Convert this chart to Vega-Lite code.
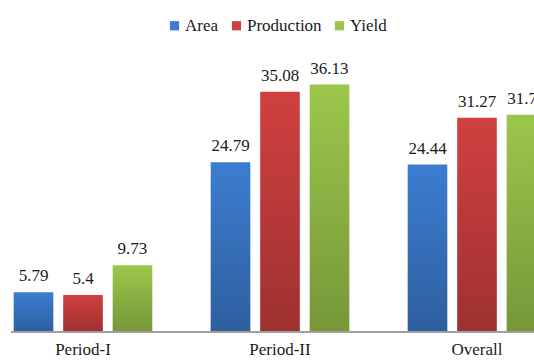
{
  "$schema": "https://vega.github.io/schema/vega-lite/v6.json",
  "width": 523,
  "height": 274,
  "autosize": "none",
  "padding": {"left": 11, "top": 58, "right": 0, "bottom": 28},
  "background": "white",
  "config": {
    "view": {"stroke": null},
    "font": "Liberation Serif"
  },
  "data": {
    "values": [
      {"period": "Period-I", "series": "Area", "value": 5.79, "label": "5.79"},
      {"period": "Period-I", "series": "Production", "value": 5.4, "label": "5.4"},
      {"period": "Period-I", "series": "Yield", "value": 9.73, "label": "9.73"},
      {"period": "Period-II", "series": "Area", "value": 24.79, "label": "24.79"},
      {"period": "Period-II", "series": "Production", "value": 35.08, "label": "35.08"},
      {"period": "Period-II", "series": "Yield", "value": 36.13, "label": "36.13"},
      {"period": "Overall", "series": "Area", "value": 24.44, "label": "24.44"},
      {"period": "Overall", "series": "Production", "value": 31.27, "label": "31.27"},
      {"period": "Overall", "series": "Yield", "value": 31.72, "label": "31.72"}
    ]
  },
  "encoding": {
    "x": {
      "field": "period",
      "type": "nominal",
      "sort": ["Period-I", "Period-II", "Overall"],
      "scale": {"range": [-26.5, 564.5], "paddingInner": 0, "paddingOuter": 0},
      "axis": {
        "title": null,
        "domain": false,
        "ticks": false,
        "labelAngle": 0,
        "labelFont": "Liberation Serif",
        "labelFontSize": 17,
        "labelColor": "#1a1a1a",
        "labelPadding": 9
      }
    },
    "xOffset": {
      "field": "series",
      "type": "nominal",
      "sort": ["Area", "Production", "Yield"],
      "scale": {"paddingInner": 0.2, "paddingOuter": 0.59}
    },
    "y": {
      "field": "value",
      "type": "quantitative",
      "scale": {"domain": [0, 40]},
      "axis": null
    }
  },
  "layer": [
    {
      "mark": {"type": "bar"},
      "encoding": {
        "color": {
          "field": "series",
          "type": "nominal",
          "sort": ["Area", "Production", "Yield"],
          "scale": {"domain": ["Area", "Production", "Yield"], "range": ["#3c7dd0", "#d04040", "#9cc64b"]},
          "legend": {
            "title": null,
            "orient": "none",
            "direction": "horizontal",
            "legendX": 155,
            "legendY": -41,
            "symbolType": "square",
            "symbolSize": 85,
            "symbolStrokeWidth": 0,
            "labelFont": "Liberation Serif",
            "labelFontSize": 17,
            "labelColor": "#1a1a1a",
            "labelOffset": 2,
            "columnPadding": 9
          }
        }
      }
    },
    {
      "mark": {
        "type": "bar",
        "fill": {
          "gradient": "linear",
          "x1": 0, "y1": 0, "x2": 0, "y2": 1,
          "stops": [
            {"offset": 0, "color": "rgba(0,0,0,0)"},
            {"offset": 1, "color": "rgba(0,0,0,0.24)"}
          ]
        }
      }
    },
    {
      "mark": {"type": "rule", "color": "#a0a0a0", "strokeWidth": 1.5},
      "encoding": {"y": {"datum": 0}, "x": null, "xOffset": null}
    },
    {
      "mark": {
        "type": "text",
        "baseline": "alphabetic",
        "align": "center",
        "dy": -11,
        "font": "Liberation Serif",
        "fontSize": 17,
        "color": "#1a1a1a"
      },
      "encoding": {"text": {"field": "label"}}
    }
  ]
}
